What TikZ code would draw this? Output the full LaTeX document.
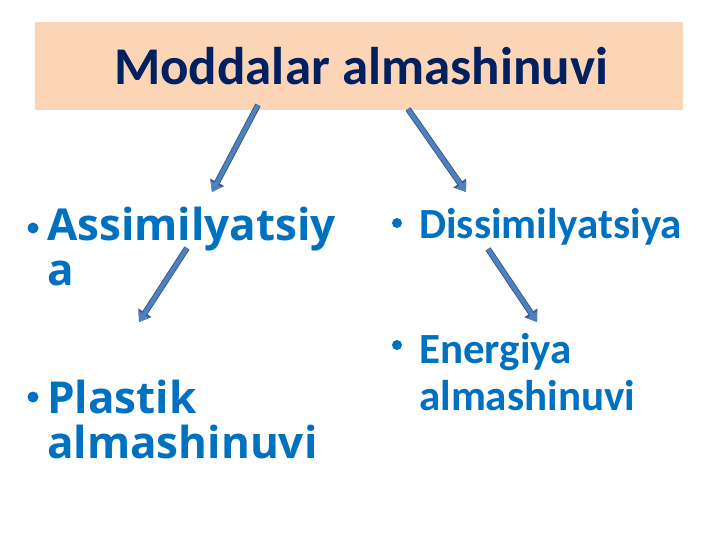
\documentclass[tikz,border=0pt]{standalone}
\usepackage{fontspec}
\setmainfont{Carlito}
\newfontfamily\opensans{Open Sans}
\usetikzlibrary{positioning,arrows.meta}

\definecolor{banner}{HTML}{FBD5B5}
\definecolor{navy}{HTML}{002060}
\definecolor{itemblue}{HTML}{0070C0}
\definecolor{arrowfill}{HTML}{4F81BD}
\definecolor{arrowline}{HTML}{385D8A}

\begin{document}
\begin{tikzpicture}[x=1pt, y=-1pt,
% node styles
titletext/.style={font=\fontsize{53}{56}\selectfont\bfseries, text=navy, inner sep=0pt, anchor=base},
leftitem/.style={font=\opensans\fontsize{44}{45}\selectfont\bfseries, text=itemblue, inner sep=0pt, anchor=base west, align=left},
rightitem/.style={font=\fontsize{43}{47}\selectfont\bfseries, text=itemblue, inner sep=0pt, anchor=base west, align=left},
dot/.style={circle, fill=itemblue, inner sep=0pt, minimum size=11pt},
% block arrow
blockarrow/.style={line width=4pt, draw=arrowfill, -{Triangle[length=9pt, width=12pt]},
  preaction={draw=arrowline, line width=6pt, -{Triangle[length=11pt, width=15pt]}}}
]
\useasboundingbox (0,0) rectangle (720,540);

% title banner
\fill[banner] (35,22) rectangle (683,110);
\node[titletext] (title) at (361,85) {Moddalar almashinuvi};

% nodes (base = last line)
\node[leftitem] (assim) at (47,285) {Assimilyatsiy\\a};
\node[leftitem] (plastik) at (47,458) {Plastik\\almashinuvi};
\node[rightitem] (dissim) at (419,238) {Dissimilyatsiya};
\node[rightitem] (energiya) at (419,410) {Energiya\\almashinuvi};

% bullets
\node[dot] (b1) at (33,228) {};
\node[dot] (b2) at (33,397) {};
\node[dot, minimum size=10pt] (b3) at (397,223) {};
\node[dot, minimum size=10pt] (b4) at (397,345) {};

% arrow ends
\coordinate (t_l) at (258,105);
\coordinate (t_r) at (408,109);
\coordinate (a_top) at (187,248);
\coordinate (d_top) at (488,249);
\coordinate (a_in) at (212,192);
\coordinate (d_in) at (466,192);
\coordinate (p_in) at (139,322);
\coordinate (e_in) at (537,322);

% draw arrows between nodes
\draw[blockarrow] (t_l) -- (a_in);
\draw[blockarrow] (t_r) -- (d_in);
\draw[blockarrow] (a_top) -- (p_in);
\draw[blockarrow] (d_top) -- (e_in);

\end{tikzpicture}
\end{document}
